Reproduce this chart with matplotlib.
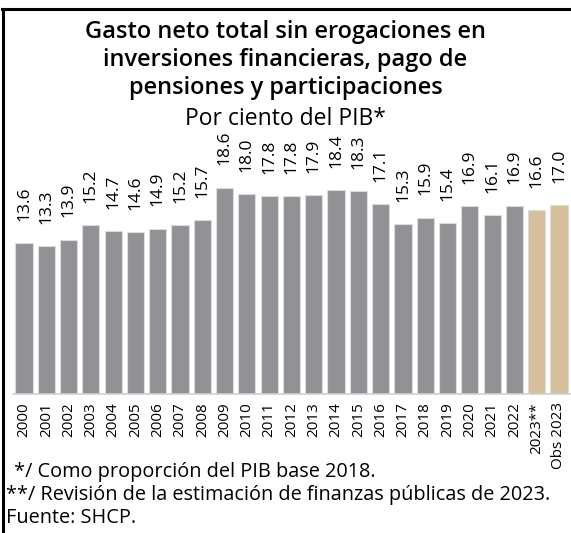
import matplotlib
matplotlib.use("Agg")
import matplotlib.pyplot as plt
from matplotlib.lines import Line2D

plt.rcParams['font.family'] = ['Open Sans', 'DejaVu Sans']

years = ["2000", "2001", "2002", "2003", "2004", "2005", "2006", "2007", "2008", "2009",
         "2010", "2011", "2012", "2013", "2014", "2015", "2016", "2017", "2018", "2019",
         "2020", "2021", "2022", "2023**", "Obs 2023"]
values = [13.6, 13.3, 13.9, 15.2, 14.7, 14.6, 14.9, 15.2, 15.7, 18.6,
          18.0, 17.8, 17.8, 17.9, 18.4, 18.3, 17.1, 15.3, 15.9, 15.4,
          16.9, 16.1, 16.9, 16.6, 17.0]
colors = ["#929195"] * 23 + ["#D5C09B"] * 2

title = "Gasto neto total sin erogaciones en\ninversiones financieras, pago de\npensiones y participaciones"
subtitle = "Por ciento del PIB*"
notes = [" */ Como proporción del PIB base 2018.",
         "**/ Revisión de la estimación de finanzas públicas de 2023.",
         "Fuente: SHCP."]

fig = plt.figure(figsize=(5.71, 5.33), dpi=100)
ax = fig.add_axes([0.0225, 0.261, 0.976, 0.4578])

x = range(len(years))
ax.bar(x, values, width=0.77, color=colors, edgecolor="#dcdcdc", linewidth=0.8)
for xi, v in zip(x, values):
    ax.annotate(f"{v:.1f}", (xi, v), xytext=(0, 16), textcoords="offset points",
                rotation=90, ha="center", va="bottom", fontsize=12.5, color="black")

ax.set_xlim(-0.5, len(years) - 0.5)
ax.set_ylim(0, 22)
ax.set_yticks([])
ax.set_xticks(list(x))
ax.set_xticklabels(years, rotation=90, fontsize=11, va="top", ha="center")
ax.tick_params(axis="x", length=0, pad=6)
for s in ["top", "right", "left"]:
    ax.spines[s].set_visible(False)
ax.spines["bottom"].set_color("#d0d0d0")
ax.spines["bottom"].set_linewidth(1.2)

fig.text(0.5, 0.962, title, ha="center", va="top", fontsize=17, fontweight="semibold",
         linespacing=1.22)
fig.text(0.5, 0.8, subtitle, ha="center", va="top", fontsize=16.5)

ys = [0.114, 0.071, 0.029]
xs = [0.015, 0.010, 0.010]
for t, yy, xx in zip(notes, ys, xs):
    fig.text(xx, yy, t, ha="left", va="center", fontsize=14.3)

# border: top and left
fig.add_artist(Line2D([0.004, 0.998], [0.983, 0.983], color="black", lw=2.2, transform=fig.transFigure))
fig.add_artist(Line2D([0.005, 0.005], [0.983, 0.0], color="black", lw=2.2, transform=fig.transFigure))

fig.savefig("out.png", dpi=100)
